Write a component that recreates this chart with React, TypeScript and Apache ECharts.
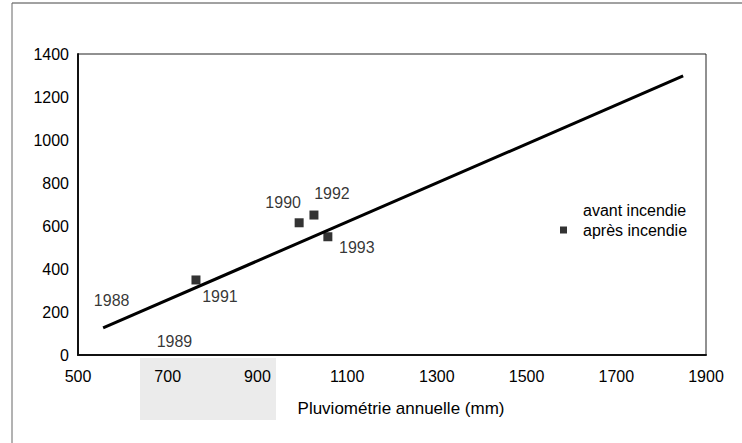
import React, { useEffect, useRef } from "react";
import * as echarts from "echarts";

const xTickMin = 500;
const xTickMax = 1900;
const yTickMin = 0;
const yTickMax = 1400;

const avantYears = ["1988", "1989"];
const avantX = [575, 715];
const avantY = [253, 62];

const apresYears = ["1990", "1991", "1992", "1993"];
const apresX = [993, 763, 1026, 1057];
const apresY = [615, 349, 651, 550];

const trendX = [556, 1849];
const trendY = [126, 1298];

const apresLabelOffsets = [
  [-16, -20],
  [24, 17],
  [18, -22],
  [29, 11],
];

const FONT = "'Liberation Sans', Arial, Helvetica, sans-serif";

export default function App() {
  const ref = useRef<HTMLDivElement>(null);
  useEffect(() => {
    if (!ref.current) return;
    const chart = echarts.init(ref.current, undefined, { renderer: "svg" });
    const option = {
      animation: false,
      backgroundColor: "#ffffff",
      textStyle: { fontFamily: FONT, color: "#000" },
      grid: {
        left: 78,
        right: 36,
        top: 54,
        bottom: 88,
        show: true,
        borderColor: "#222",
        borderWidth: 1,
      },
      legend: {
        orient: "vertical",
        left: 555,
        top: 197,
        itemGap: 4,
        itemWidth: 7,
        itemHeight: 7,
        textStyle: {
          fontFamily: FONT,
          fontSize: 16,
          color: "#000",
          padding: [0, 0, 0, 11],
          lineHeight: 16,
        },
        data: [
          { name: "avant incendie", icon: "rect", itemStyle: { color: "transparent" } },
          { name: "après incendie", icon: "rect" },
        ],
      },
      xAxis: {
        type: "value",
        min: xTickMin,
        max: xTickMax,
        interval: 200,
        splitLine: { show: false },
        axisTick: { show: false },
        axisLine: { lineStyle: { color: "#111", width: 2 } },
        axisLabel: {
          fontFamily: FONT,
          fontSize: 16,
          color: "#000",
          margin: 13,
          formatter: (v: number) => String(v),
        },
        name: "Pluviométrie annuelle (mm)",
        nameLocation: "middle",
        nameGap: 45,
        nameTextStyle: { fontFamily: FONT, fontSize: 17, color: "#000", padding: [0, 0, 0, 18] },
      },
      yAxis: {
        type: "value",
        min: yTickMin,
        max: yTickMax,
        interval: 200,
        splitLine: { show: false },
        axisTick: { show: false },
        axisLine: { lineStyle: { color: "#111", width: 2 } },
        axisLabel: {
          fontFamily: FONT,
          fontSize: 16,
          color: "#000",
          margin: 9,
          formatter: (v: number) => String(v),
        },
      },
      graphic: [
        {
          type: "rect",
          z: -10,
          silent: true,
          shape: { x: 140, y: 358, width: 136, height: 62 },
          style: { fill: "#ebebeb" },
        },
        {
          type: "line",
          silent: true,
          shape: { x1: 12, y1: 3, x2: 742, y2: 3 },
          style: { stroke: "#444", lineWidth: 1 },
        },
        {
          type: "line",
          silent: true,
          shape: { x1: 12, y1: 3, x2: 12, y2: 443 },
          style: { stroke: "#666", lineWidth: 1 },
        },
      ],
      series: [
        {
          name: "tendance",
          type: "line",
          data: trendX.map((x, i) => [x, trendY[i]]),
          symbol: "none",
          lineStyle: { color: "#000", width: 3 },
          silent: true,
          z: 1,
        },
        {
          name: "avant incendie",
          type: "scatter",
          symbol: "rect",
          symbolSize: 8,
          itemStyle: { color: "transparent" },
          data: avantX.map((x, i) => ({ value: [x, avantY[i]], name: avantYears[i] })),
          label: {
            show: true,
            position: "inside",
            formatter: (p: any) => p.name,
            fontFamily: FONT,
            fontSize: 16,
            color: "#000",
          },
          z: 3,
        },
        {
          name: "après incendie",
          type: "scatter",
          symbol: "rect",
          symbolSize: 9,
          itemStyle: { color: "#000" },
          data: apresX.map((x, i) => ({
            value: [x, apresY[i]],
            name: apresYears[i],
            label: { offset: apresLabelOffsets[i] },
          })),
          label: {
            show: true,
            position: "inside",
            formatter: (p: any) => p.name,
            fontFamily: FONT,
            fontSize: 16,
            color: "#000",
          },
          z: 3,
        },
      ],
    };
    chart.setOption(option as any);
    return () => chart.dispose();
  }, []);
  return (
    <div
      ref={ref}
      style={{ position: "fixed", left: 0, top: 0, width: 742, height: 443 }}
    />
  );
}
